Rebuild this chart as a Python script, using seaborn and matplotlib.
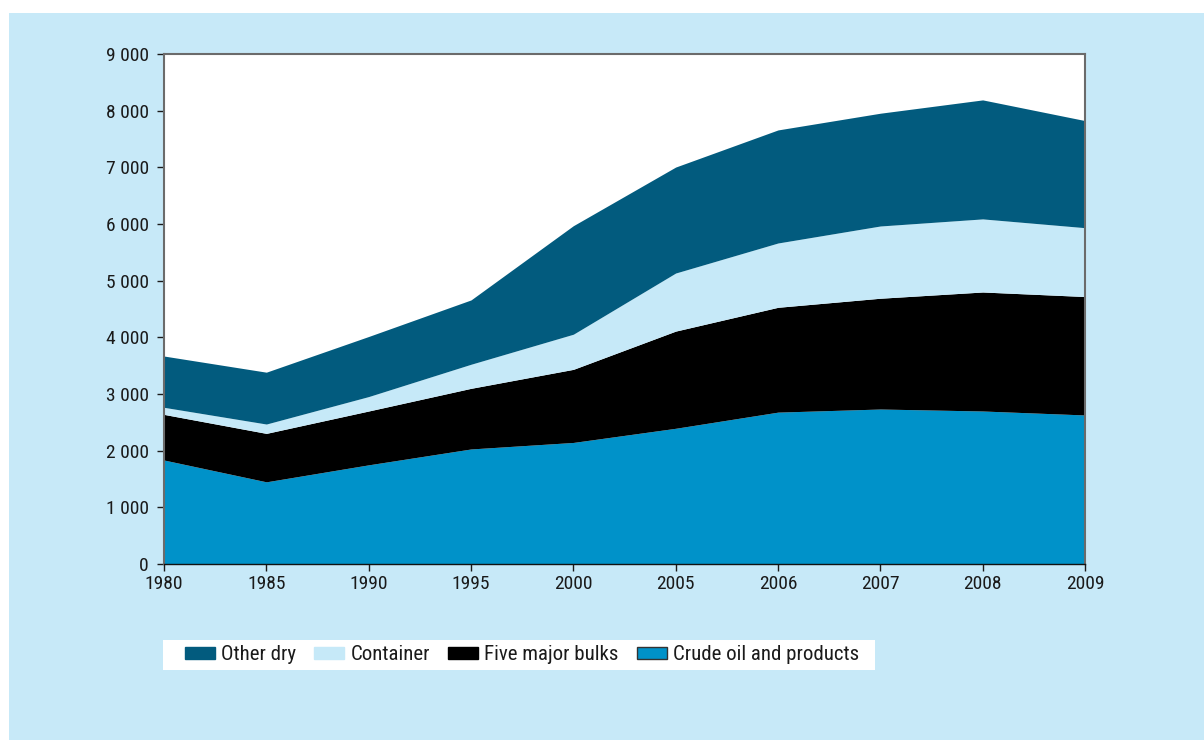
import matplotlib
matplotlib.use("Agg")
import matplotlib.pyplot as plt
import matplotlib.patches as mpatches
import seaborn as sns
import numpy as np
import pandas as pd

years = ["1980", "1985", "1990", "1995", "2000", "2005", "2006", "2007", "2008", "2009"]
crude = [1835, 1450, 1750, 2030, 2145, 2395, 2680, 2735, 2700, 2630]
five_major = [805, 855, 950, 1070, 1290, 1715, 1850, 1955, 2100, 2090]
container = [125, 165, 255, 425, 620, 1025, 1135, 1275, 1290, 1215]
other_dry = [905, 915, 1060, 1135, 1915, 1870, 1995, 1990, 2100, 1890]

series_names = ["Crude oil and products", "Five major bulks", "Container", "Other dry"]
colors = {"Crude oil and products": "#0092C9", "Five major bulks": "#000000",
          "Container": "#C6E9F8", "Other dry": "#025B7E"}

df = pd.DataFrame({"year": years, "Crude oil and products": crude,
                   "Five major bulks": five_major, "Container": container,
                   "Other dry": other_dry})

sns.set_theme(style="white")
plt.rcParams['font.family'] = ['Liberation Sans Narrow', 'Roboto Condensed', 'Liberation Sans', 'DejaVu Sans']

W, H = 1204, 740
fig = plt.figure(figsize=(W / 100, H / 100), dpi=100)
fig.patch.set_facecolor("white")
bg = mpatches.Rectangle((9 / W, 0), 1 - 9 / W, 1 - 13 / H,
                        transform=fig.transFigure, facecolor="#C7E9F8",
                        edgecolor="none", zorder=-10)
fig.add_artist(bg)
legbox = mpatches.Rectangle((163 / W, 1 - 670 / H), (875 - 163) / W, 30 / H,
                            transform=fig.transFigure, facecolor="white",
                            edgecolor="none", zorder=-5)
fig.add_artist(legbox)

ax = fig.add_axes([164 / W, (H - 564) / H, (1085 - 164) / W, (564 - 54) / H])
ax.set_zorder(2)
ax.set_facecolor("white")

x = np.arange(len(years))
ax.stackplot(x, *[df[n].values for n in series_names],
             colors=[colors[n] for n in series_names], linewidth=0)

ax.set_xlim(0, len(years) - 1)
ax.set_ylim(0, 9000)
ax.set_xticks(x)
ax.set_xticklabels(years)
ax.set_yticks(np.arange(0, 9001, 1000))
ax.set_yticklabels([f"{v:,}".replace(",", " ") for v in range(0, 9001, 1000)])
ax.tick_params(axis="both", labelsize=14, colors="#1a1a1a", length=5, width=1,
               direction="out", left=True, bottom=True)
ax.tick_params(axis="x", pad=3)
ax.tick_params(axis="y", pad=6)
for s in ["left", "right", "top"]:
    ax.spines[s].set_color("#6b6b6b")
    ax.spines[s].set_linewidth(1.5)
ax.spines["bottom"].set_color("#111111")
ax.spines["bottom"].set_linewidth(1.0)
ax.grid(False)

order = ["Other dry", "Container", "Five major bulks", "Crude oil and products"]
handles = []
for n in order:
    ec = "#333333" if n == "Crude oil and products" else colors[n]
    handles.append(mpatches.Patch(facecolor=colors[n], edgecolor=ec, linewidth=1, label=n))
leg = fig.legend(handles=handles, loc="center left",
                 bbox_to_anchor=(185 / W, 1 - 655 / H), ncol=4,
                 frameon=False, fontsize=15,
                 handlelength=1.45, handleheight=0.45, handletextpad=0.3,
                 columnspacing=0.85, borderpad=0, borderaxespad=0)
leg.set_zorder(5)
for t in leg.get_texts():
    t.set_color("#1a1a1a")

fig.savefig("out.png", dpi=100, facecolor=fig.get_facecolor())
